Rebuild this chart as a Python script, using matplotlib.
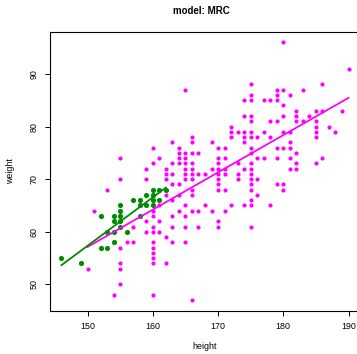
import numpy as np
import matplotlib
matplotlib.use("Agg")
import matplotlib.pyplot as plt

plt.rcParams["font.family"] = ["Liberation Sans", "DejaVu Sans"]

# ---- data (height cm, weight kg) ----
green_h = [146, 149, 152, 152, 153, 153, 154, 154, 154, 154, 155, 155, 155, 155, 155,
           156, 157, 158, 158, 158, 159, 159, 160, 161, 162, 160, 160, 161, 160]
green_w = [55, 54, 63, 57, 60, 57, 63, 62, 60, 58, 65, 64, 63, 62, 61,
           60, 66, 66, 65, 63, 67, 65, 68, 68, 68, 67, 66, 66, 65]

# magenta group, listed by weight row
mag_rows = {
    96: [180],
    91: [190],
    88: [175, 186],
    87: [165, 179, 180, 183],
    86: [175, 179, 181],
    85: [174, 175, 177, 178, 179],
    84: [180],
    83: [182, 185, 186, 189],
    82: [174, 175, 180, 182, 184],
    81: [175, 178, 179, 182, 183, 185],
    80: [172, 185, 187],
    79: [172, 173, 174, 175, 177, 180, 181, 185, 188],
    78: [166, 172, 174, 175, 176, 178, 185],
    77: [163, 166, 169, 174, 181],
    76: [160, 164, 170, 171, 175, 179, 180, 181],
    75: [164, 165, 166, 167, 175, 182],
    74: [155, 161, 164, 165, 170, 171, 176, 177, 179, 181, 186],
    73: [160, 163, 164, 165, 166, 170, 173, 175, 182, 185],
    72: [159, 162, 165, 166, 169, 170, 171, 174, 175, 181, 182],
    71: [162, 163, 165, 166, 167, 168, 170, 171, 173, 175],
    70: [155, 159, 162, 165, 166, 170, 173, 175, 176],
    69: [163, 164, 170, 175, 179, 180],
    68: [153, 166, 170, 171, 175, 180],
    67: [162, 164, 166, 176],
    66: [163, 175],
    65: [161, 165, 168, 172, 174, 175, 178],
    64: [151, 160, 164, 166, 167, 169, 171],
    63: [160, 163, 165],
    62: [159, 161, 170],
    61: [157, 160, 163, 165, 167, 170, 175],
    60: [159, 160, 161],
    59: [162],
    58: [156, 157, 160, 163, 165],
    57: [155, 160],
    56: [160],
    55: [160],
    54: [155, 160, 162],
    53: [150, 155],
    50: [155],
    48: [154, 160],
    47: [166],
}
mag_h = [h for w, hs in mag_rows.items() for h in hs]
mag_w = [w for w, hs in mag_rows.items() for h in hs]

GREEN = "#008B00"
MAGENTA = "#FF00FF"

fig = plt.figure(figsize=(3.57, 3.54), dpi=100)
# plot region runs past the right edge of the image, as in the reference
ax = fig.add_axes([50/357, 1 - 310.5/354, 310/357, 278.5/354])

ax.scatter(mag_h, mag_w, s=9, color=MAGENTA, lw=0, zorder=2)
ax.scatter(green_h, green_w, s=14, color=GREEN, lw=0, zorder=3)

for hs, ws, col in ((mag_h, mag_w, MAGENTA), (green_h, green_w, GREEN)):
    k, b = np.polyfit(hs, ws, 1)
    xx = np.array([min(hs), max(hs)])
    ax.plot(xx, k*xx + b, color=col, lw=1.3, zorder=4)

ax.set_xlim(144.24, 191.76)
ax.set_ylim(45.04, 97.96)
ax.set_xticks([150, 160, 170, 180, 190])
ax.set_yticks([50, 60, 70, 80, 90])
ax.tick_params(direction="out", length=3.5, width=0.7, labelsize=6.4, pad=5)
for lab in ax.get_yticklabels():
    lab.set_rotation(90)
    lab.set_va("center")
for sp in ax.spines.values():
    sp.set_linewidth(0.8)

ax.set_xlabel("height", fontsize=6.4, labelpad=8)
ax.set_ylabel("weight", fontsize=6.4, labelpad=10)
fig.text(201/357, 1 - 11/354, "model: MRC", ha="center", va="center",
         fontsize=7, fontweight="bold")

fig.savefig("out.png", dpi=100)
